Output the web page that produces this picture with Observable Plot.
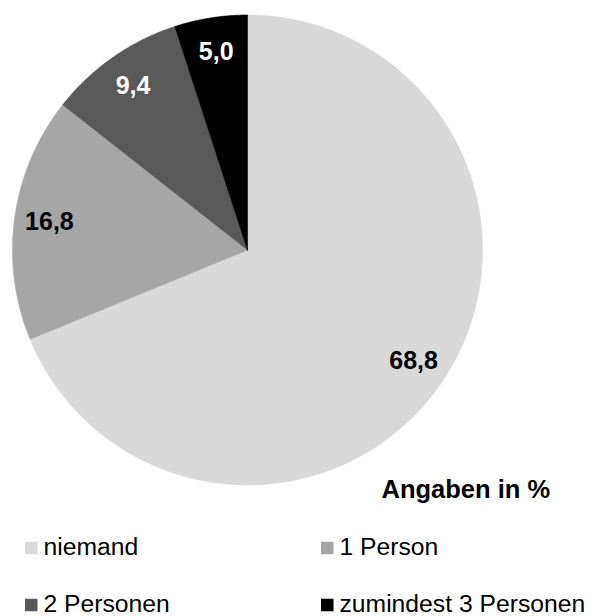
<!DOCTYPE html>
<html>
<head>
<meta charset="utf-8">
<script src="https://cdn.jsdelivr.net/npm/d3@7"></script>
<script src="https://cdn.jsdelivr.net/npm/@observablehq/plot@0.6"></script>
<style>
  html, body { margin: 0; padding: 0; background: #fff; }
  #chart svg { display: block; }
</style>
</head>
<body>
<div id="chart"></div>
<script>
// Data
const categories = ["niemand", "1 Person", "2 Personen", "zumindest 3 Personen"];
const values = [68.8, 16.8, 9.4, 5.0];
const labels = ["68,8", "16,8", "9,4", "5,0"];
const colors = ["#d9d9d9", "#a6a6a6", "#595959", "#000000"];
const labelColors = ["#000000", "#000000", "#ffffff", "#ffffff"];
const note = "Angaben in %";

// Layout
const W = 598, H = 616;
const cx = 247, cy = 249.5, R = 235, labelR = 200;
const font = "Liberation Sans, Arial, Helvetica, sans-serif";

const pie = d3.pie().sort(null).value(d => d.value);
const rows = categories.map((c, i) => ({cat: c, value: values[i], label: labels[i], lc: labelColors[i]}));
const arcs = pie(rows);

// polygon points for each slice
const poly = [];
arcs.forEach(a => {
  poly.push({cat: a.data.cat, x: cx, y: cy});
  const n = Math.max(2, Math.ceil((a.endAngle - a.startAngle) / (Math.PI / 360)));
  for (let k = 0; k <= n; k++) {
    const t = a.startAngle + (a.endAngle - a.startAngle) * k / n;
    poly.push({cat: a.data.cat, x: cx + R * Math.sin(t), y: cy - R * Math.cos(t)});
  }
  poly.push({cat: a.data.cat, x: cx, y: cy});
});

const labelPts = arcs.map(a => {
  const m = (a.startAngle + a.endAngle) / 2;
  return {label: a.data.label, lc: a.data.lc, x: cx + labelR * Math.sin(m), y: cy - labelR * Math.cos(m)};
});

// legend layout
const legendCols = [25, 321];
const legendRows = [548, 605];
const legend = categories.map((c, i) => ({
  cat: c,
  x: legendCols[i % 2],
  y: legendRows[Math.floor(i / 2)]
}));

const chart = Plot.plot({
  width: W,
  height: H,
  margin: 0,
  x: {type: "identity", axis: null},
  y: {type: "identity", axis: null},
  color: {domain: categories, range: colors},
  style: {fontFamily: font, background: "#fff"},
  marks: [
    Plot.line(poly, {x: "x", y: "y", z: "cat", fill: "cat", stroke: "cat", strokeWidth: 0.6, curve: "linear"}),
    Plot.text(labelPts, {x: "x", y: "y", text: "label", fill: "lc", fontSize: 25, fontWeight: "bold", textAnchor: "middle"}),
    Plot.text([note], {x: () => 381, y: () => 489.8, text: d => d, fontSize: 25.5, fontWeight: "bold", textAnchor: "start", fill: "#000"}),
    Plot.rect(legend, {x1: d => d.x, x2: d => d.x + 12.5, y1: d => d.y - 6.25, y2: d => d.y + 6.25, fill: "cat"}),
    Plot.text(legend, {x: d => d.x + 18, y: d => d.y - 1.5, text: "cat", fontSize: 24.7, textAnchor: "start", fill: "#000"})
  ]
});
document.getElementById("chart").append(chart);
</script>
</body>
</html>
